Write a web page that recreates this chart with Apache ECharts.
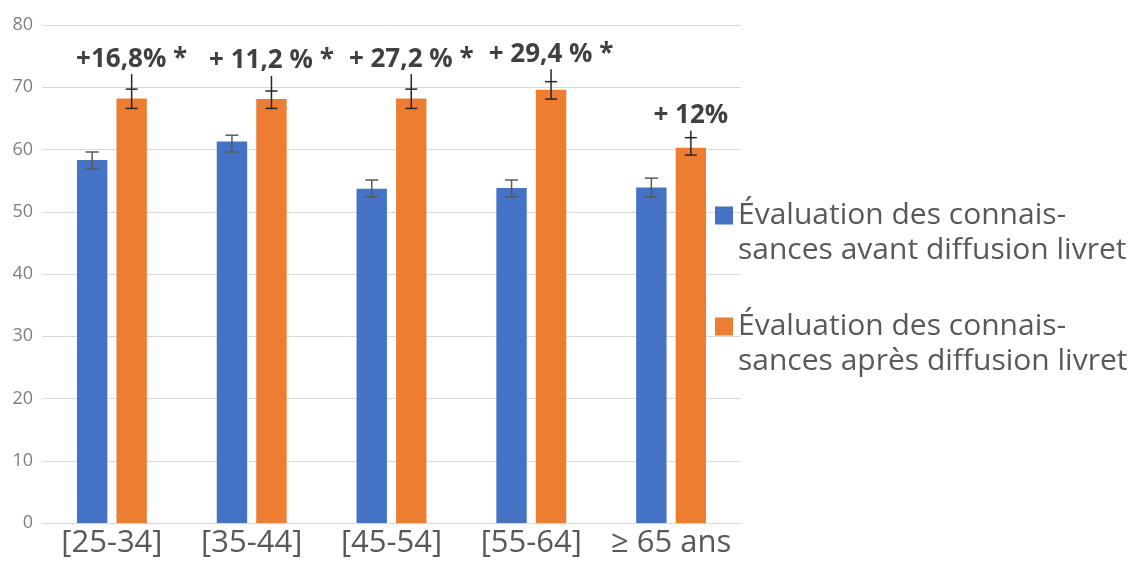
<!DOCTYPE html>
<html>
<head>
<meta charset="utf-8">
<script src="https://cdn.jsdelivr.net/npm/echarts@6/dist/echarts.min.js"></script>
<style>
html,body{margin:0;padding:0;background:#fff;}
#chart{width:1147px;height:561px;}
</style>
</head>
<body>
<div id="chart"></div>
<script>
var categories = ['[25-34]', '[35-44]', '[45-54]', '[55-64]', '≥ 65 ans'];
var seriesNames = ['Évaluation des connais-\nsances avant diffusion livret', 'Évaluation des connais-\nsances après diffusion livret'];
var avant = [58.3, 61.3, 53.7, 53.8, 53.9];
var avantLow = [56.9, 59.6, 52.4, 52.4, 52.4];
var avantHigh = [59.6, 62.3, 55.1, 55.1, 55.4];
var apres = [68.2, 68.1, 68.2, 69.6, 60.3];
var apresLow = [66.6, 66.6, 66.6, 68.1, 59.1];
var apresHigh = [69.7, 69.4, 69.7, 70.9, 61.9];
var apresWhisker = [72.1, 71.8, 72.1, 72.9, 63.0];
var gains = ['+16,8% *', '+ 11,2 % *', '+ 27,2 % *', '+ 29,4 % *', '+ 12%'];
var yTicks = [0, 10, 20, 30, 40, 50, 60, 70, 80];

var BAR_CAT_GAP = 0.5, BAR_GAP = 0.3;
function barOffset(api, sign) {
  var bandW = api.size([1, 0])[0];
  var barW = bandW * (1 - BAR_CAT_GAP) / (2 + BAR_GAP);
  return sign * barW * (1 + BAR_GAP) / 2;
}

var avantErr = categories.map(function (c, i) { return [i, avantLow[i], avantHigh[i]]; });
var apresErr = categories.map(function (c, i) { return [i, apresLow[i], apresHigh[i], apresWhisker[i]]; });

var chart = echarts.init(document.getElementById('chart'), null, {renderer: 'canvas'});
chart.setOption({
  animation: false,
  backgroundColor: '#ffffff',
  grid: {left: 42, right: 406, top: 25, bottom: 38},
  legend: {
    orient: 'vertical',
    left: 710,
    top: 158,
    itemWidth: 18,
    itemHeight: 18,
    itemGap: 6,
    icon: 'rect',
    data: seriesNames,
    formatter: function (name) { return ' \n' + name; },
    textStyle: {
      fontFamily: 'Open Sans',
      fontSize: 30,
      color: '#595959',
      lineHeight: 35
    }
  },
  xAxis: {
    type: 'category',
    data: categories,
    axisLine: {lineStyle: {color: '#d9d9d9', width: 1}},
    axisTick: {show: false},
    axisLabel: {fontFamily: 'Open Sans', fontSize: 31, color: '#595959', margin: 5,
      interval: 0, hideOverlap: false}
  },
  yAxis: {
    type: 'value',
    min: 0, max: 80, interval: 10,
    axisLine: {show: false},
    axisTick: {show: false},
    splitLine: {lineStyle: {color: '#d9d9d9', width: 1}},
    axisLabel: {fontFamily: 'Open Sans', fontSize: 18, color: '#7f7f7f', margin: 9,
      formatter: function (v) { return yTicks.indexOf(v) >= 0 ? String(v) : ''; }}
  },
  series: [
    {
      name: seriesNames[0], type: 'bar', data: avant,
      itemStyle: {color: '#4472C4'},
      barGap: '30%', barCategoryGap: '50%'
    },
    {
      name: seriesNames[1], type: 'bar', data: apres,
      itemStyle: {color: '#ED7D31'},
      barGap: '30%', barCategoryGap: '50%'
    },
    {
      type: 'custom', name: 'errAvant', data: avantErr, z: 10,
      encode: {x: 0, y: [1, 2]},
      renderItem: function (params, api) {
        var i = api.value(0);
        var lo = api.coord([i, api.value(1)]);
        var hi = api.coord([i, api.value(2)]);
        var x = lo[0] + barOffset(api, -1);
        var hw = 6.5;
        var st = {stroke: '#595959', lineWidth: 1.5};
        return {type: 'group', children: [
          {type: 'line', shape: {x1: x, y1: lo[1], x2: x, y2: hi[1]}, style: st},
          {type: 'line', shape: {x1: x - hw, y1: lo[1], x2: x + hw, y2: lo[1]}, style: st},
          {type: 'line', shape: {x1: x - hw, y1: hi[1], x2: x + hw, y2: hi[1]}, style: st}
        ]};
      }
    },
    {
      type: 'custom', name: 'errApres', data: apresErr, z: 10,
      encode: {x: 0, y: [1, 2, 3]},
      renderItem: function (params, api) {
        var i = api.value(0);
        var lo = api.coord([i, api.value(1)]);
        var hi = api.coord([i, api.value(2)]);
        var wh = api.coord([i, api.value(3)]);
        var x = lo[0] + barOffset(api, 1);
        var hw = 6;
        var st = {stroke: '#262626', lineWidth: 1.5};
        return {type: 'group', children: [
          {type: 'line', shape: {x1: x, y1: lo[1], x2: x, y2: wh[1]}, style: st},
          {type: 'line', shape: {x1: x - hw, y1: lo[1], x2: x + hw, y2: lo[1]}, style: st},
          {type: 'line', shape: {x1: x - hw, y1: hi[1], x2: x + hw, y2: hi[1]}, style: st},
          {type: 'text', x: x, y: wh[1] - 15, style: {
            text: gains[params.dataIndex], fontFamily: 'Open Sans', fontWeight: 'bold',
            fontSize: 26, fill: '#404040', align: 'center', verticalAlign: 'middle'}}
        ]};
      }
    }
  ]
});
</script>
</body>
</html>
